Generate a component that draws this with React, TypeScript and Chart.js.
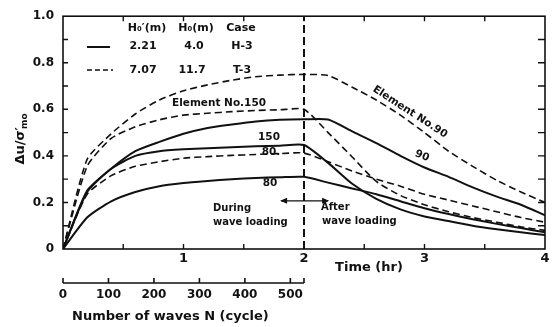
import React, { useEffect, useRef } from 'react';
import { Chart, registerables } from 'chart.js';

Chart.register(...registerables);

// time (hr) sample points
const TIME = [0, 0.2, 0.4, 0.6, 0.8, 1.0, 1.2, 1.4, 1.6, 1.8, 2.0, 2.2, 2.4, 2.6, 2.8, 3.0, 3.2, 3.4, 3.6, 3.8, 4.0];
// T-3 (dashed) series, Δu/σ'mo
const T3_E90 = [0, 0.385, 0.495, 0.58, 0.64, 0.68, 0.705, 0.725, 0.74, 0.747, 0.75, 0.745, 0.695, 0.64, 0.575, 0.5, 0.42, 0.355, 0.295, 0.245, 0.2];
const T3_E150 = [0, 0.355, 0.475, 0.525, 0.555, 0.575, 0.583, 0.59, 0.595, 0.598, 0.6, 0.5, 0.395, 0.29, 0.23, 0.19, 0.16, 0.135, 0.115, 0.095, 0.08];
const T3_E80 = [0, 0.235, 0.315, 0.355, 0.375, 0.39, 0.397, 0.402, 0.406, 0.41, 0.412, 0.375, 0.335, 0.3, 0.27, 0.235, 0.21, 0.185, 0.16, 0.135, 0.115];
// H-3 (solid) series
const H3_E90 = [0, 0.25, 0.345, 0.42, 0.46, 0.495, 0.52, 0.535, 0.548, 0.555, 0.557, 0.556, 0.505, 0.455, 0.4, 0.35, 0.31, 0.265, 0.225, 0.19, 0.145];
const H3_E150 = [0, 0.245, 0.345, 0.4, 0.42, 0.428, 0.433, 0.437, 0.441, 0.444, 0.447, 0.37, 0.28, 0.215, 0.17, 0.14, 0.12, 0.1, 0.085, 0.072, 0.06];
const H3_E80 = [0, 0.135, 0.205, 0.245, 0.27, 0.283, 0.292, 0.3, 0.305, 0.308, 0.31, 0.285, 0.26, 0.235, 0.205, 0.175, 0.15, 0.128, 0.108, 0.09, 0.072];

const LOADING_END = 2; // hr
const N_AT_END = 530; // cycles at end of wave loading
const N_TICKS = [0, 100, 200, 300, 400, 500];
const Y_MINOR = [0.1, 0.2, 0.3, 0.4, 0.5, 0.6, 0.7, 0.8, 0.9];
const X_MINOR = [0.5, 1, 1.5, 2, 2.5, 3, 3.5];

const LEGEND_HEAD = ["H₀′(m)", "H₀(m)", "Case"];
const LEGEND_SOLID = ["2.21", "4.0", "H-3"];
const LEGEND_DASHED = ["7.07", "11.7", "T-3"];

const INK = '#111';
const FONT = '"DejaVu Sans", sans-serif';
const DASH = [7, 4];

function txt(ctx: CanvasRenderingContext2D, s: string, x: number, y: number, font: string, align: CanvasTextAlign = 'center', rot = 0) {
  ctx.save();
  ctx.translate(x, y);
  ctx.rotate(rot);
  ctx.font = font;
  ctx.fillStyle = INK;
  ctx.textAlign = align;
  ctx.textBaseline = 'middle';
  ctx.fillText(s, 0, 0);
  ctx.restore();
}

const decor = {
  id: 'decor',
  afterDraw(chart: any) {
    const ctx: CanvasRenderingContext2D = chart.ctx;
    const { left, right, top, bottom } = chart.chartArea;
    const xs = chart.scales.x, ys = chart.scales.y, ns = chart.scales.n;
    ctx.save();
    ctx.strokeStyle = INK;
    ctx.lineWidth = 1.6;
    ctx.strokeRect(left, top, right - left, bottom - top);
    ctx.lineWidth = 1.4;
    ctx.beginPath();
    Y_MINOR.forEach(v => {
      const py = ys.getPixelForValue(v);
      ctx.moveTo(left, py); ctx.lineTo(left + 5, py);
      ctx.moveTo(right, py); ctx.lineTo(right - 7, py);
    });
    X_MINOR.forEach(t => {
      const px = xs.getPixelForValue(t);
      ctx.moveTo(px, bottom); ctx.lineTo(px, bottom - 5);
      ctx.moveTo(px, top); ctx.lineTo(px, top + 5);
    });
    ctx.stroke();
    // N axis
    const ny = ns.top;
    ctx.lineWidth = 1.6;
    ctx.beginPath();
    ctx.moveTo(ns.getPixelForValue(0), ny);
    ctx.lineTo(ns.getPixelForValue(N_AT_END), ny);
    [...N_TICKS, N_AT_END].forEach(n => {
      const px = ns.getPixelForValue(n);
      ctx.moveTo(px, ny); ctx.lineTo(px, ny - 5);
    });
    ctx.stroke();
    // arrows
    const ay = ys.getPixelForValue(0.207);
    const axL = xs.getPixelForValue(1.81);
    const axR = xs.getPixelForValue(2.2);
    ctx.lineWidth = 1.2;
    ctx.beginPath();
    ctx.moveTo(axL, ay); ctx.lineTo(axR, ay);
    ctx.stroke();
    ctx.fillStyle = INK;
    ctx.beginPath();
    ctx.moveTo(axR + 1, ay); ctx.lineTo(axR - 6, ay - 3); ctx.lineTo(axR - 6, ay + 3); ctx.closePath();
    ctx.moveTo(axL - 1, ay); ctx.lineTo(axL + 6, ay - 3); ctx.lineTo(axL + 6, ay + 3); ctx.closePath();
    ctx.fill();
    // legend
    const b11 = `bold 11px ${FONT}`;
    txt(ctx, LEGEND_HEAD[0], 147, 28, b11);
    txt(ctx, LEGEND_HEAD[1], 196, 28, b11);
    txt(ctx, LEGEND_HEAD[2], 241, 28, b11);
    const cols = [143, 194, 242];
    LEGEND_SOLID.forEach((s, i) => txt(ctx, s, cols[i], 46, b11));
    LEGEND_DASHED.forEach((s, i) => txt(ctx, s, cols[i] - (i === 1 ? 2 : 0), 70, b11));
    ctx.lineWidth = 2;
    ctx.beginPath(); ctx.moveTo(87, 47); ctx.lineTo(110, 47); ctx.stroke();
    ctx.lineWidth = 1.6;
    ctx.setLineDash([5, 3]);
    ctx.beginPath(); ctx.moveTo(87, 70); ctx.lineTo(113, 70); ctx.stroke();
    ctx.setLineDash([]);
    // curve labels
    const b105 = `bold 10.5px ${FONT}`;
    txt(ctx, 'Element No.150', 219, 103, b105);
    txt(ctx, '150', 269, 137, b105);
    txt(ctx, '80.', 271, 152, b105);
    txt(ctx, '80', 270, 183, b105);
    txt(ctx, 'Element No.90', 410, 112, b105, 'center', 33 * Math.PI / 180);
    txt(ctx, '90', 422, 156, b105, 'center', 22 * Math.PI / 180);
    const b10 = `bold 10px ${FONT}`;
    txt(ctx, 'During', 213, 208, b10, 'left');
    txt(ctx, 'wave loading', 213, 222, b10, 'left');
    txt(ctx, 'After', 321, 207, b10, 'left');
    txt(ctx, 'wave loading', 322, 221, b10, 'left');
    // axis titles
    const b13 = `bold 13px ${FONT}`;
    txt(ctx, 'Time (hr)', 369, 268, b13);
    txt(ctx, 'Number of waves N (cycle)', 72, 317, b13, 'left');
    // y title
    ctx.save();
    ctx.translate(21, 138);
    ctx.rotate(-Math.PI / 2);
    ctx.fillStyle = INK;
    ctx.textBaseline = 'middle';
    const main = 'Δu/σ′';
    ctx.font = `bold 9px ${FONT}`;
    const wSub = ctx.measureText('mo').width;
    ctx.font = b13;
    const wMain = ctx.measureText(main).width;
    const x0 = -(wMain + wSub) / 2;
    ctx.textAlign = 'left';
    ctx.fillText(main, x0, 0);
    ctx.font = `bold 9px ${FONT}`;
    ctx.fillText('mo', x0 + wMain - 2, 4);
    ctx.restore();
    ctx.restore();
  },
};

function series(vals: number[]) {
  return TIME.map((t, i) => ({ x: t, y: vals[i] }));
}

export default function App() {
  const ref = useRef<HTMLCanvasElement>(null);
  useEffect(() => {
    document.body.style.margin = '0';
    const canvas = ref.current!;
    const solid = (vals: number[]) => ({
      data: series(vals), borderColor: INK, borderWidth: 2, pointRadius: 0,
      tension: 0.2, xAxisID: 'x', yAxisID: 'y',
    });
    const dashed = (vals: number[]) => ({ ...solid(vals), borderWidth: 1.6, borderDash: DASH });
    const chart = new Chart(canvas, {
      type: 'line',
      data: {
        datasets: [
          dashed(T3_E90), dashed(T3_E150), dashed(T3_E80),
          solid(H3_E90), solid(H3_E150), solid(H3_E80),
          {
            data: [{ x: LOADING_END, y: 0 }, { x: LOADING_END, y: 1 }],
            borderColor: INK, borderWidth: 2, borderDash: [8, 4], pointRadius: 0, tension: 0, xAxisID: 'x', yAxisID: 'y',
          },
        ],
      },
      options: {
        animation: false,
        responsive: false,
        devicePixelRatio: 1,
        layout: { padding: { left: 0, right: 14, top: 12, bottom: 0 } },
        plugins: { legend: { display: false }, tooltip: { enabled: false } },
        scales: {
          x: {
            type: 'linear', position: 'bottom', min: 0, max: 4, weight: 0,
            grid: { display: false, drawTicks: false }, border: { display: false },
            ticks: {
              stepSize: 1, autoSkip: false, maxRotation: 0, padding: 2, color: INK,
              font: { family: FONT, size: 13, weight: 'bold' },
              callback: (v: any) => (v === 0 ? '' : String(v)),
            },
            afterFit: (s: any) => { s.height = 34; },
          },
          n: {
            type: 'linear', position: 'bottom', min: 0, max: 2 * N_AT_END, weight: 1,
            grid: { display: false, drawTicks: false }, border: { display: false },
            ticks: {
              stepSize: 100, autoSkip: false, maxRotation: 0, padding: 5, color: INK,
              font: { family: FONT, size: 12, weight: 'bold' },
              callback: (v: any) => (N_TICKS.includes(v) ? String(v) : ''),
            },
            afterFit: (s: any) => { s.height = 44; },
          },
          y: {
            type: 'linear', min: 0, max: 1,
            grid: { display: false, drawTicks: false }, border: { display: false },
            ticks: {
              stepSize: 0.2, padding: 9, color: INK,
              font: { family: FONT, size: 12, weight: 'bold' },
              callback: (v: any) => (Math.abs(v) < 1e-9 ? '0' : Number(v).toFixed(1)),
            },
            afterFit: (s: any) => { s.width = 63; },
          },
        },
      },
      plugins: [decor],
    } as any);
    return () => chart.destroy();
  }, []);
  return <canvas ref={ref} width={559} height={327} style={{ display: 'block' }} />;
}
